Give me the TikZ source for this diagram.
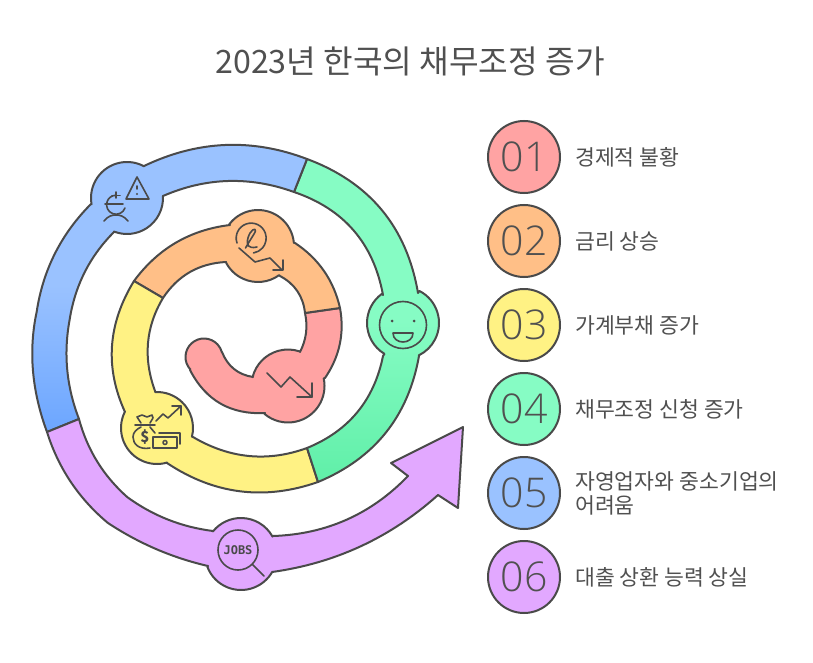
\documentclass[tikz,border=0pt]{standalone}
\usepackage{fontspec}
\setmainfont{Noto Sans CJK KR}
\newfontfamily\numfont{Open Sans Light}
\newfontfamily\jobsfont{DejaVu Sans Mono}
\usepackage{tikz}
\usetikzlibrary{positioning,calc}

\definecolor{inkc}{HTML}{4A4A4A}
\definecolor{txtc}{HTML}{505050}
\definecolor{pinkc}{HTML}{FFA3A3}
\definecolor{orangec}{HTML}{FFBF87}
\definecolor{yellowc}{HTML}{FFF284}
\definecolor{greenc}{HTML}{86FCC4}
\definecolor{greendk}{HTML}{60EFA8}
\definecolor{bluec}{HTML}{9AC2FF}
\definecolor{bluedk}{HTML}{6CA6FF}
\definecolor{purplec}{HTML}{E2A8FF}

\begin{document}
\begin{tikzpicture}[x=1pt,y=1pt,yscale=-1,
band/.style={draw=inkc, line width=2pt, line join=round},
thru/.style={to path={.. controls ($1.333*(#1)-0.333*(\tikztotarget)$) and ($1.333*(#1)-0.333*(\tikztostart)$) .. (\tikztotarget)}},
icn/.style={draw=inkc, line width=1.6pt, line cap=round, line join=round},
numdot/.style={circle, draw=inkc, line width=2pt, minimum size=72pt, inner sep=0pt, text=txtc, font=\numfont\fontsize{41}{41}\selectfont},
lbl/.style={text=txtc, anchor=west, align=left, inner sep=0pt, font=\fontsize{21.6}{24}\selectfont}
]
\useasboundingbox (0,0) rectangle (813,663);
\coordinate (bumpP) at (288,386);
\coordinate (capP) at (204,357);
\coordinate (bumpO) at (258,246);
\coordinate (bumpY) at (157,428);
\coordinate (bumpG) at (403,323);
\coordinate (bumpB) at (127,198);
\coordinate (bumpV) at (241,554);
% The spiral, from its centre outwards
\path[band, fill=pinkc]
(340,308) to[thru={339.7,344.5}] (325,378)
-- ($(bumpP)+(-12:36.5)$) arc[start angle=-12, end angle=130, radius=36.5pt]
-- (265,413) to[thru={220.5,403.6}] (190,370)
-- ($(capP)+(137:18.5)$) arc[start angle=137, end angle=345, radius=18.5pt]
-- (222,352) to[thru={234,369}] (253,377)
-- ($(bumpP)+(194:36.5)$) arc[start angle=194, end angle=289, radius=36.5pt]
-- (300,352) to[thru={306,333}] (305,313) -- cycle;
\path[band, fill=orangec]
(134,281) to[thru={176,242.6}] (230,225)
-- ($(bumpO)+(217:36)$) arc[start angle=217, end angle=355, radius=36pt]
-- (295,243) to[thru={324,271}] (340,308)
-- (305,313) to[thru={297.4,291.2}] (280,276)
-- ($(bumpO)+(54:36)$) arc[start angle=54, end angle=153, radius=36pt]
-- (226,262) to[thru={190,272}] (163,298) -- cycle;
\path[band, fill=yellowc]
(134,281) to[thru={112,346}] (125,412)
-- ($(bumpY)+(206:36)$) arc[start angle=206, end angle=74, radius=36pt]
-- (167,463) to[thru={240.1,491.3}] (318,482)
-- (307,448) to[thru={249,456}] (193,437)
-- ($(bumpY)+(14:36)$) arc[start angle=14, end angle=-93, radius=36pt]
-- (155,391) to[thru={148,343}] (163,298) -- cycle;
\path[band, top color=greenc, bottom color=greendk, middle color=greenc]
(307,159) to[thru={381.8,210}] (418,293)
-- ($(bumpG)+(-63:36)$) arc[start angle=-63, end angle=64, radius=36pt]
-- (419,356) to[thru={385.7,432.8}] (318,482)
-- (307,448) to[thru={357.3,412.2}] (383,356)
-- ($(bumpG)+(121:36)$) arc[start angle=121, end angle=234, radius=36pt]
-- (383,295) to[thru={353.6,230.4}] (294,192) -- cycle;
\path[band, top color=bluec, bottom color=bluedk, middle color=bluec]
(47,432) to[thru={33,371}] (36.7,311.7) to[thru={55,253.4}] (91,204)
-- ($(bumpB)+(170:36)$) arc[start angle=170, end angle=298, radius=36pt]
-- (144,166) to[thru={225,145}] (307,159)
-- (294,192) to[thru={228,181}] (163,196)
-- ($(bumpB)+(-3:36)$) arc[start angle=-3, end angle=111, radius=36pt]
-- (114,232) to[thru={84.6,272.4}] (69.5,320.5) to[thru={67.3,370.3}] (79,419) -- cycle;
\path[band, fill=purplec]
(47,432) to[thru={70.7,481.8}] (107.7,522.8) to[thru={156,549}] (208,566)
-- ($(bumpV)+(159:36)$) arc[start angle=159, end angle=30, radius=36pt]
-- (272,572) to[thru={360.9,546.2}] (438,495)
-- (458,508) -- (463,427) -- (391,463) -- (408,476)
to[thru={346.6,519.7}] (273,536)
-- ($(bumpV)+(-29:36)$) arc[start angle=-29, end angle=-141, radius=36pt]
-- (213,531) to[thru={168,519.6}] (127.4,497.2) to[thru={97.3,461.7}] (79,419) -- cycle;
% Icon on the pink part
\draw[icn] (267,373) -- (281,387) -- (290,377) -- (312,397);
\draw[icn] (312,383) -- (312,397) -- (297,397);
% Icon on the orange part
\draw[icn] (237,243) arc[start angle=161, end angle=441, radius=15pt];
\draw[icn] (245.5,248) .. controls (250,240) and (255,233) .. (255.5,231) .. controls (256,227) and (250,230) .. (248,238) .. controls (246,245) and (248,249) .. (257,247);
\draw[icn] (239,248) -- (255,262) -- (270,258) -- (282,270);
\draw[icn] (283,260) -- (283,270) -- (273,270);
% Icon on the yellow part
\draw[icn] (156,421) -- (163,414) -- (168,418) -- (181,406);
\draw[icn] (172,406) -- (181,406) -- (181,415);
\draw[icn] (141,423) -- (137,417) -- (142,415) -- (147,417) -- (152,415) -- (153,418) -- (150,423);
\draw[icn] (135,425) -- (155,425);
\draw[icn] (150,448) .. controls (139,450) and (133,444) .. (133,437) .. controls (133,432) and (137,429) .. (141,427);
\draw[icn] (150,427) -- (155,433);
\node[inner sep=0pt, text=inkc, font=\bfseries\fontsize{15}{15}\selectfont] (dollar) at (145,437) {\$};
\draw[icn] (153,437) rectangle (177,448);
\draw[icn] (159,433) -- (180,433) -- (180,444);
\draw[icn] (165,442.5) circle (2pt);
% Icon on the green part
\draw[icn] (403,325) circle (23.5pt);
\fill[inkc] (392,321) circle (1.5pt) (414,321) circle (1.5pt);
\draw[icn] (393,333) -- (413,333) .. controls (413,339) and (408,342) .. (403,342) .. controls (398,342) and (393,339) .. (393,333) -- cycle;
% Icon on the blue part
\draw[icn] (137,177) -- (149,199) -- (126,199) -- cycle;
\draw[icn] (137,186) -- (137,189);
\fill[inkc] (137,194) circle (1.2pt);
\draw[icn] (125,208) arc[start angle=20, end angle=270, radius=9.5pt];
\draw[icn] (112,195.5) -- (120,195.5) (116,192) -- (116,198);
\draw[icn] (105,204) -- (123,204);
\draw[icn] (104,221) .. controls (108,216) and (112,215) .. (116,215) .. controls (120,215) and (124,216) .. (128,221);
% Icon on the purple part
\node[circle, draw=inkc, line width=1.6pt, minimum size=40pt, inner sep=0pt, text=inkc, font=\jobsfont\bfseries\fontsize{12}{12}\selectfont] (jobs) at (238,550) {JOBS};
\coordinate (jobsend) at (264,576);
\draw[icn] (jobs) -- (jobsend);
% Title and the list
\node[text=txtc, inner sep=0pt, font=\fontsize{32.2}{32}\selectfont] (title) at (410,61) {2023년 한국의 채무조정 증가};
\node[numdot, fill=pinkc] (dotA) at (524,157) {01};
\node[numdot, fill=orangec] (dotB) at (524,241) {02};
\node[numdot, fill=yellowc] (dotC) at (524,325) {03};
\node[numdot, fill=greenc] (dotD) at (524,409) {04};
\node[numdot, fill=bluec] (dotE) at (524,493) {05};
\node[numdot, fill=purplec] (dotF) at (524,577) {06};
\node[lbl, right=14pt of dotA] (lblA) {경제적 불황};
\node[lbl, right=14pt of dotB] (lblB) {금리 상승};
\node[lbl, right=14pt of dotC] (lblC) {가계부채 증가};
\node[lbl, right=14pt of dotD] (lblD) {채무조정 신청 증가};
\node[lbl, right=14pt of dotE] (lblE) {자영업자와 중소기업의\\어려움};
\node[lbl, right=14pt of dotF] (lblF) {대출 상환 능력 상실};
\end{tikzpicture}
\end{document}
